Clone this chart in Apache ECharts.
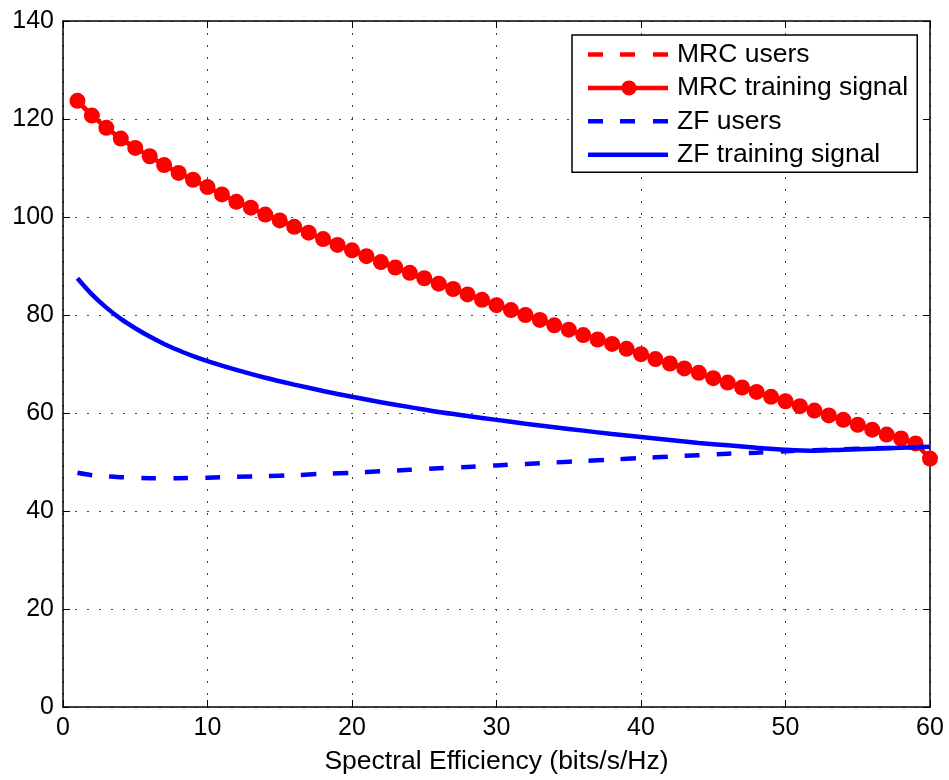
<!DOCTYPE html>
<html>
<head>
<meta charset="utf-8">
<script src="https://cdn.jsdelivr.net/npm/echarts@6/dist/echarts.min.js"></script>
<style>html,body{margin:0;padding:0;background:#fff}#c{width:949px;height:780px}</style>
</head>
<body>
<div id="c"></div>
<script>
const seriesNames = ["MRC users", "MRC training signal", "ZF users", "ZF training signal"];
const mrcX = [1,2,3,4,5,6,7,8,9,10,11,12,13,14,15,16,17,18,19,20,21,22,23,24,25,26,27,28,29,30,31,32,33,34,35,36,37,38,39,40,41,42,43,44,45,46,47,48,49,50,51,52,53,54,55,56,57,58,59,60];
const mrcTraining = [123.7,120.7,118.2,116.0,114.1,112.4,110.6,109.0,107.6,106.1,104.6,103.1,101.9,100.5,99.3,98.0,96.8,95.5,94.3,93.2,92.0,90.8,89.7,88.6,87.5,86.4,85.3,84.2,83.1,82.0,81.0,80.0,79.0,77.9,77.0,75.9,75.0,74.1,73.1,72.0,71.0,70.1,69.1,68.2,67.1,66.2,65.2,64.3,63.3,62.4,61.4,60.5,59.5,58.6,57.6,56.6,55.6,54.8,53.8,50.7];
const mrcUsers = [123.7,120.7,118.2,116.0,114.1,112.4,110.6,109.0,107.6,106.1,104.6,103.1,101.9,100.5,99.3,98.0,96.8,95.5,94.3,93.2,92.0,90.8,89.7,88.6,87.5,86.4,85.3,84.2,83.1,82.0,81.0,80.0,79.0,77.9,77.0,75.9,75.0,74.1,73.1,72.0,71.0,70.1,69.1,68.2,67.1,66.2,65.2,64.3,63.3,62.4,61.4,60.5,59.5,58.6,57.6,56.6,55.6,54.8,53.8,50.7];
const zfTrainX = [1,2,3,4,5,6,7,8,9,10,12,14,16,18,20,22,24,26,28,30,32,34,36,38,40,42,44,46,48,50,52,54,56,58,60];
const zfTraining = [87.5,84.2,81.5,79.2,77.3,75.6,74.1,72.8,71.6,70.6,68.8,67.2,65.8,64.5,63.3,62.2,61.2,60.2,59.4,58.6,57.8,57.1,56.4,55.7,55.1,54.5,53.9,53.4,52.9,52.5,52.3,52.5,52.7,52.9,53.1];
const zfUsersX = [1,2,3,4,6,8,10,12,14,16,18,20,22,24,26,28,30,32,34,36,38,40,42,44,46,48,50,52,54,56,58,60];
const zfUsers = [47.8,47.3,47.1,46.9,46.7,46.7,46.8,47.0,47.1,47.3,47.6,47.8,48.1,48.4,48.7,49.0,49.3,49.6,49.9,50.2,50.5,50.8,51.1,51.4,51.7,51.9,52.2,52.4,52.6,52.8,52.9,53.1];
const xTicks = {min: 0, max: 60, interval: 10};
const yTicks = {min: 0, max: 140, interval: 20};

const pair = (xs, ys) => xs.map((x, i) => [x, ys[i]]);
const FONT = '"Liberation Sans", Arial, Helvetica, sans-serif';
const chart = echarts.init(document.getElementById('c'), null, {renderer: 'canvas'});

// legend icons (80 x 26 boxes, line centred)
const corners = 'M0,0h0.01v0.01h-0.01Z M79.99,25.99h0.01v0.01h-0.01Z ';
const iconSolid = 'path://' + corners + 'M0,10.75H80V15.25H0Z';
const iconDashed = 'path://' + corners + 'M0,10.75H15V15.25H0Z M32,10.75H47V15.25H32Z M65,10.75H80V15.25H65Z';
const iconDot = 'path://' + corners + 'M0,10.75H36V15.25H0Z M46,10.75H80V15.25H46Z M33.5,13A7.5,7.5 0 1,1 48.5,13A7.5,7.5 0 1,1 33.5,13Z';
const legendIcons = [iconDashed, iconDot, iconDashed, iconSolid];

const axisCommon = {
  axisLine: {show: true, onZero: false, lineStyle: {color: '#000', width: 1.5}},
  axisTick: {show: true, inside: true, length: 7, lineStyle: {color: '#000', width: 1}}
};
const gridLine = {show: true, lineStyle: {color: '#444', type: [2, 10], width: 1}};

chart.setOption({
  animation: false,
  backgroundColor: '#fff',
  textStyle: {fontFamily: FONT},
  grid: {left: 63, right: 19, top: 21, bottom: 73, containLabel: false},
  legend: {
    left: 572, top: 35,
    orient: 'vertical',
    data: seriesNames.map((n, i) => ({name: n, icon: legendIcons[i]})),
    itemWidth: 80, itemHeight: 26, itemGap: 6.4,
    padding: [6, 9, 4, 16],
    borderColor: '#000', borderWidth: 1.5,
    backgroundColor: '#fff',
    itemStyle: {borderWidth: 0},
    textStyle: {fontSize: 26.5, color: '#000', fontFamily: FONT, padding: [0, 0, 0, 4]}
  },
  xAxis: [
    Object.assign({type: 'value', position: 'bottom', min: xTicks.min, max: xTicks.max, interval: xTicks.interval,
      name: 'Spectral Efficiency (bits/s/Hz)', nameLocation: 'middle', nameGap: 41,
      nameTextStyle: {fontSize: 26.5, color: '#000', fontFamily: FONT},
      splitLine: gridLine,
      axisLabel: {color: '#000', fontSize: 25, fontFamily: FONT, margin: 9}}, axisCommon),
    Object.assign({type: 'value', position: 'top', min: xTicks.min, max: xTicks.max, interval: xTicks.interval,
      splitLine: {show: false}, axisLabel: {show: false}}, axisCommon)
  ],
  yAxis: [
    Object.assign({type: 'value', position: 'left', min: yTicks.min, max: yTicks.max, interval: yTicks.interval,
      splitLine: gridLine,
      axisLabel: {color: '#000', fontSize: 25, fontFamily: FONT, margin: 9}}, axisCommon),
    Object.assign({type: 'value', position: 'right', min: yTicks.min, max: yTicks.max, interval: yTicks.interval,
      splitLine: {show: false}, axisLabel: {show: false}}, axisCommon)
  ],
  series: [
    {name: seriesNames[0], type: 'line', data: pair(mrcX, mrcUsers), symbol: 'none',
      lineStyle: {color: '#ff0000', width: 4.5, type: [15, 17]}, itemStyle: {color: '#ff0000'}, z: 2},
    {name: seriesNames[1], type: 'line', data: pair(mrcX, mrcTraining), symbol: 'circle', symbolSize: 16,
      lineStyle: {color: '#ff0000', width: 4.5}, itemStyle: {color: '#ff0000'}, z: 3},
    {name: seriesNames[2], type: 'line', data: pair(zfUsersX, zfUsers), symbol: 'none', smooth: 0.3,
      lineStyle: {color: '#0000ff', width: 4.5, type: [15, 17]}, itemStyle: {color: '#0000ff'}, z: 4},
    {name: seriesNames[3], type: 'line', data: pair(zfTrainX, zfTraining), symbol: 'none', smooth: 0.3,
      lineStyle: {color: '#0000ff', width: 4.5}, itemStyle: {color: '#0000ff'}, z: 5}
  ]
});
</script>
</body>
</html>
